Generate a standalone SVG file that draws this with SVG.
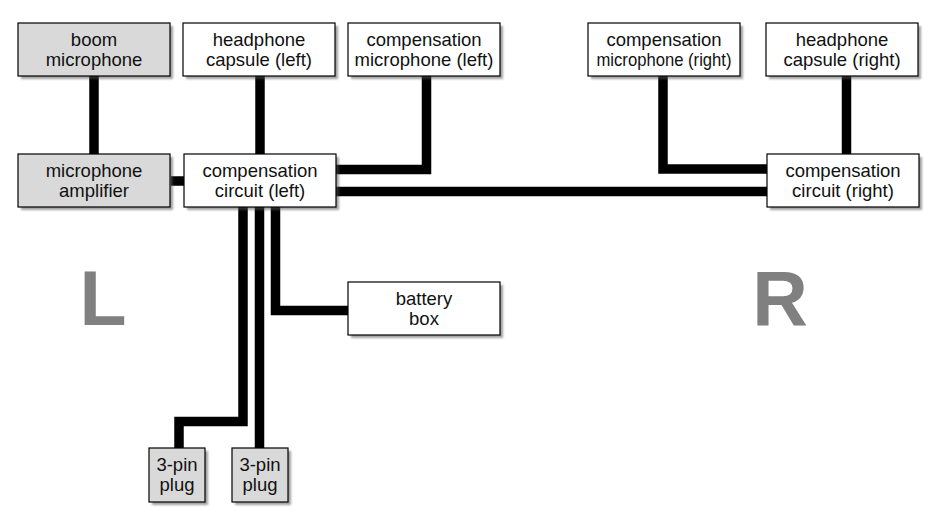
<svg xmlns="http://www.w3.org/2000/svg" width="929" height="520" viewBox="0 0 929 520">
<style>
.box{stroke:#000;stroke-width:1.2}
.w{fill:#fff}
.g{fill:#d9d9d9}
.sh{fill:#555;opacity:0.55}
.t{font-family:"Liberation Sans",Arial,sans-serif;font-size:18.5px;fill:#111;text-anchor:middle}
.big{font-family:"Liberation Sans",Arial,sans-serif;font-size:77px;font-weight:bold;fill:#808080;text-anchor:middle}
.c{fill:none;stroke:#000;stroke-width:9.5;stroke-linejoin:miter;stroke-linecap:butt}
</style>
<defs>
<filter id="blur" x="-10%" y="-10%" width="120%" height="130%"><feGaussianBlur stdDeviation="1"/></filter>
</defs>
<rect width="929" height="520" fill="#fff"/>
<g id="connectors">
<path class="c" d="M94 76V154"/>
<path class="c" d="M260 76V154"/>
<path class="c" d="M426.5 76V169.5H336"/>
<path class="c" d="M171 181H184"/>
<path class="c" d="M336 191.5H767"/>
<path class="c" d="M663 76V169H767"/>
<path class="c" d="M846.5 76V154"/>
<path class="c" d="M275.5 207V310.5H348"/>
<path class="c" d="M243 207V421.5H179V448"/>
<path class="c" d="M259.5 207V448"/>
</g>
<g id="boom-microphone">
<rect class="sh" x="21" y="26" width="152" height="53" filter="url(#blur)"/>
<rect class="box g" x="18" y="23" width="152" height="53"/>
<text class="t" x="94" y="46">boom</text>
<text class="t" x="94" y="66">microphone</text>
</g>
<g id="headphone-capsule-left">
<rect class="sh" x="186" y="26" width="152" height="53" filter="url(#blur)"/>
<rect class="box w" x="183" y="23" width="152" height="53"/>
<text class="t" x="259" y="46">headphone</text>
<text class="t" x="259" y="66">capsule (left)</text>
</g>
<g id="compensation-microphone-left">
<rect class="sh" x="351" y="26" width="152" height="53" filter="url(#blur)"/>
<rect class="box w" x="348" y="23" width="152" height="53"/>
<text class="t" x="424" y="46">compensation</text>
<text class="t" x="424" y="66">microphone (left)</text>
</g>
<g id="compensation-microphone-right">
<rect class="sh" x="591" y="26" width="152" height="53" filter="url(#blur)"/>
<rect class="box w" x="588" y="23" width="152" height="53"/>
<text class="t" x="664" y="46">compensation</text>
<text class="t" x="664" y="66" textLength="135" lengthAdjust="spacingAndGlyphs">microphone (right)</text>
</g>
<g id="headphone-capsule-right">
<rect class="sh" x="769" y="26" width="152" height="53" filter="url(#blur)"/>
<rect class="box w" x="766" y="23" width="152" height="53"/>
<text class="t" x="842" y="46">headphone</text>
<text class="t" x="842" y="66">capsule (right)</text>
</g>
<g id="microphone-amplifier">
<rect class="sh" x="21" y="157" width="152" height="53" filter="url(#blur)"/>
<rect class="box g" x="18" y="154" width="152" height="53"/>
<text class="t" x="94" y="177">microphone</text>
<text class="t" x="94" y="197">amplifier</text>
</g>
<g id="compensation-circuit-left">
<rect class="sh" x="187" y="157" width="152" height="53" filter="url(#blur)"/>
<rect class="box w" x="184" y="154" width="152" height="53"/>
<text class="t" x="260" y="177">compensation</text>
<text class="t" x="260" y="197">circuit (left)</text>
</g>
<g id="compensation-circuit-right">
<rect class="sh" x="770" y="157" width="152" height="53" filter="url(#blur)"/>
<rect class="box w" x="767" y="154" width="152" height="53"/>
<text class="t" x="843" y="177">compensation</text>
<text class="t" x="843" y="197">circuit (right)</text>
</g>
<g id="battery-box">
<rect class="sh" x="351" y="285" width="152" height="53" filter="url(#blur)"/>
<rect class="box w" x="348" y="282" width="152" height="53"/>
<text class="t" x="424" y="305">battery</text>
<text class="t" x="424" y="325">box</text>
</g>
<g id="plug-1">
<rect class="sh" x="152" y="451" width="56" height="54" filter="url(#blur)"/>
<rect class="box g" x="149" y="448" width="56" height="54"/>
<text class="t" x="177" y="471">3-pin</text>
<text class="t" x="177" y="491">plug</text>
</g>
<g id="plug-2">
<rect class="sh" x="235" y="451" width="56" height="54" filter="url(#blur)"/>
<rect class="box g" x="232" y="448" width="56" height="54"/>
<text class="t" x="260" y="471">3-pin</text>
<text class="t" x="260" y="491">plug</text>
</g>
<text class="big" x="103" y="325">L</text>
<text class="big" x="780" y="325">R</text>
</svg>
